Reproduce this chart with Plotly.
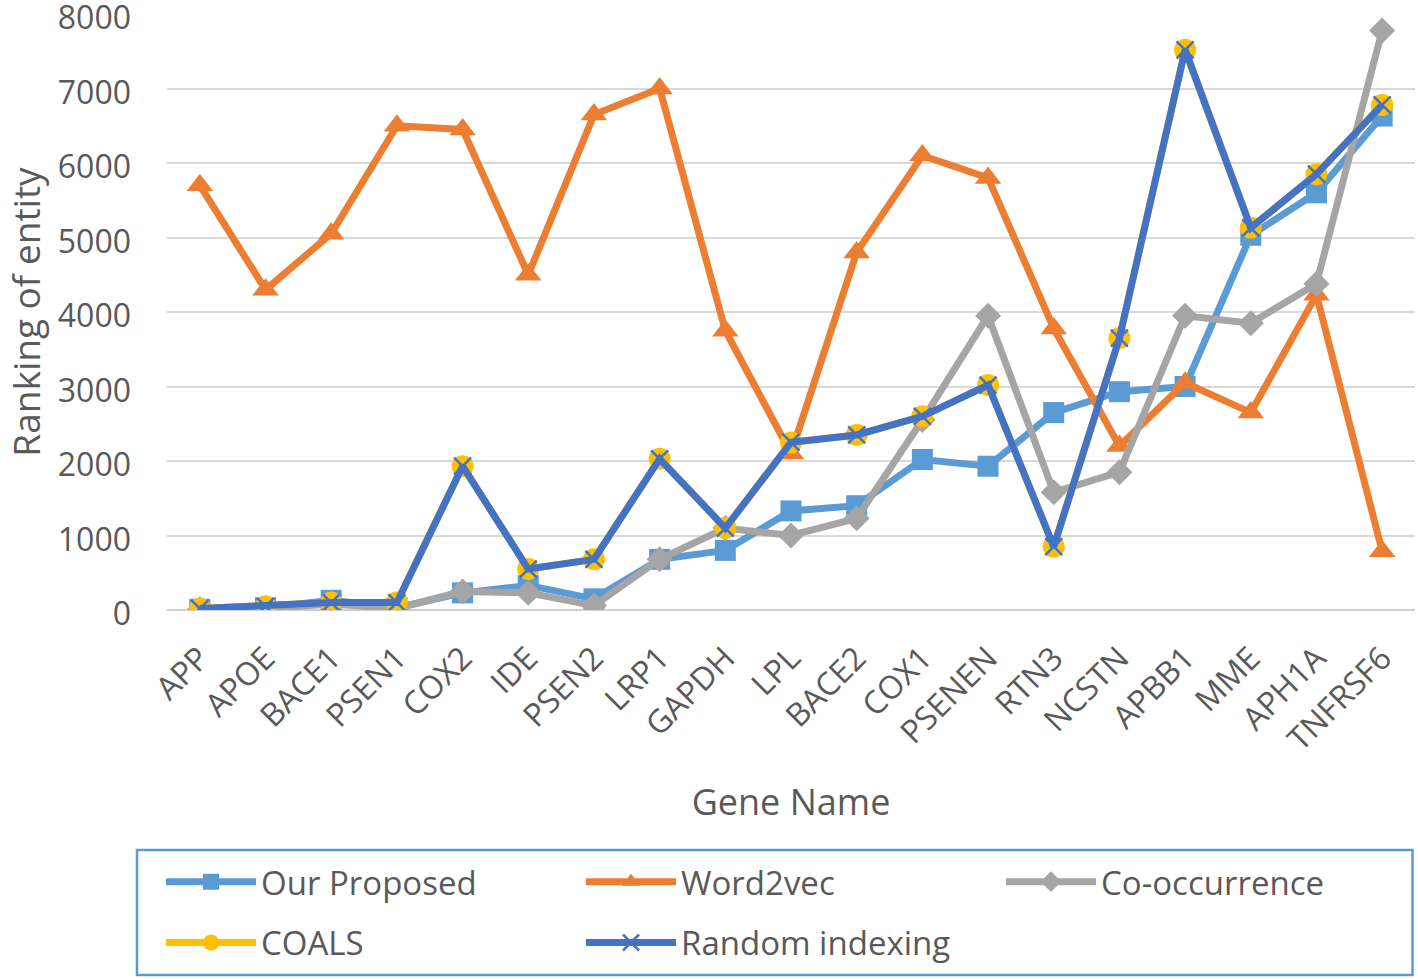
import plotly.graph_objects as go

genes = ["APP", "APOE", "BACE1", "PSEN1", "COX2", "IDE", "PSEN2", "LRP1", "GAPDH", "LPL",
         "BACE2", "COX1", "PSENEN", "RTN3", "NCSTN", "APBB1", "MME", "APH1A", "TNFRSF6"]

our_proposed = [10, 30, 130, 30, 230, 330, 150, 680, 800, 1330,
                1400, 2020, 1930, 2650, 2930, 3000, 5030, 5600, 6630]
word2vec = [5700, 4300, 5050, 6500, 6450, 4500, 6650, 7000, 3750, 2100,
            4800, 6100, 5800, 3780, 2200, 3050, 2650, 4230, 790]
co_occurrence = [10, 20, 80, 20, 250, 230, 60, 680, 1100, 1000,
                 1230, 2550, 3950, 1580, 1850, 3950, 3850, 4380, 7780]
coals = [20, 50, 100, 100, 1930, 550, 680, 2030, 1100, 2250,
         2350, 2600, 3020, 850, 3650, 7520, 5130, 5850, 6780]
random_indexing = [20, 50, 100, 100, 1930, 550, 680, 2030, 1100, 2250,
                   2350, 2600, 3020, 850, 3650, 7520, 5130, 5850, 6780]

y_ticks = [0, 1000, 2000, 3000, 4000, 5000, 6000, 7000, 8000]

FONT = "Open Sans"
TXT = "#595959"
LW = 7

fig = go.Figure()
fig.add_trace(go.Scatter(x=genes, y=our_proposed, name="Our Proposed", mode="lines+markers",
                         line=dict(color="#5B9BD5", width=LW), legend="legend",
                         marker=dict(symbol="square", size=21, color="#5B9BD5")))
fig.add_trace(go.Scatter(x=genes, y=word2vec, name="Word2vec", mode="lines+markers",
                         line=dict(color="#ED7D31", width=LW), legend="legend",
                         marker=dict(symbol="triangle-up", size=23, color="#ED7D31")))
fig.add_trace(go.Scatter(x=genes, y=co_occurrence, name="Co-occurrence", mode="lines+markers",
                         line=dict(color="#A5A5A5", width=LW), legend="legend",
                         marker=dict(symbol="diamond", size=20, color="#A5A5A5")))
fig.add_trace(go.Scatter(x=genes, y=coals, name="COALS", mode="lines+markers",
                         line=dict(color="#FFC000", width=LW), legend="legend2",
                         marker=dict(symbol="circle", size=22, color="#FFC000")))
fig.add_trace(go.Scatter(x=genes, y=random_indexing, name="Random indexing", mode="lines+markers",
                         line=dict(color="#4472C4", width=LW), legend="legend2",
                         marker=dict(symbol="x-thin", size=17, color="#4472C4",
                                     line=dict(color="#4472C4", width=2.5))))

legend_common = dict(orientation="h", xanchor="left", yanchor="top", borderwidth=0,
                     bgcolor="rgba(0,0,0,0)", entrywidth=315, entrywidthmode="pixels",
                     itemwidth=90, font=dict(size=33, color=TXT, family=FONT))

fig.update_layout(
    width=1418, height=979,
    margin=dict(l=167, r=3, t=14, b=369, autoexpand=False),
    paper_bgcolor="white", plot_bgcolor="white",
    font=dict(family=FONT, color=TXT, size=32),
    showlegend=True,
    legend=dict(x=-0.0048, y=-0.409, **legend_common),
    legend2=dict(x=-0.0048, y=-0.511, **legend_common),
    xaxis=dict(type="category", categoryorder="array", categoryarray=genes,
               range=[-0.5, 18.5], tickangle=-45, showgrid=False, showline=False,
               automargin=False,
               ticks="", ticklabelstandoff=22, tickfont=dict(size=32, color=TXT),
               title=dict(text="Gene Name", font=dict(size=36, color=TXT), standoff=31)),
    yaxis=dict(range=[0, 8000], tickvals=y_ticks, showgrid=True, gridcolor="#D9D9D9",
               gridwidth=2, zeroline=True, zerolinecolor="#D0D0D0", zerolinewidth=2,
               showline=False, ticks="", ticklabelstandoff=35, ticklabeloverflow="allow",
               ticklabelshift=4, automargin=False,
               tickfont=dict(size=32, color=TXT),
               title=dict(text="Ranking of entity", font=dict(size=37, color=TXT), standoff=44)),
    shapes=[dict(type="rect", xref="paper", yref="paper",
                 x0=-0.02404, x1=0.998, y0=-0.4027, y1=-0.6124,
                 line=dict(color="#5B9BD5", width=2.5), fillcolor="rgba(0,0,0,0)")],
)

fig.write_html("out.html", config={"displayModeBar": False},
               post_script="document.body.style.margin='0px';")
